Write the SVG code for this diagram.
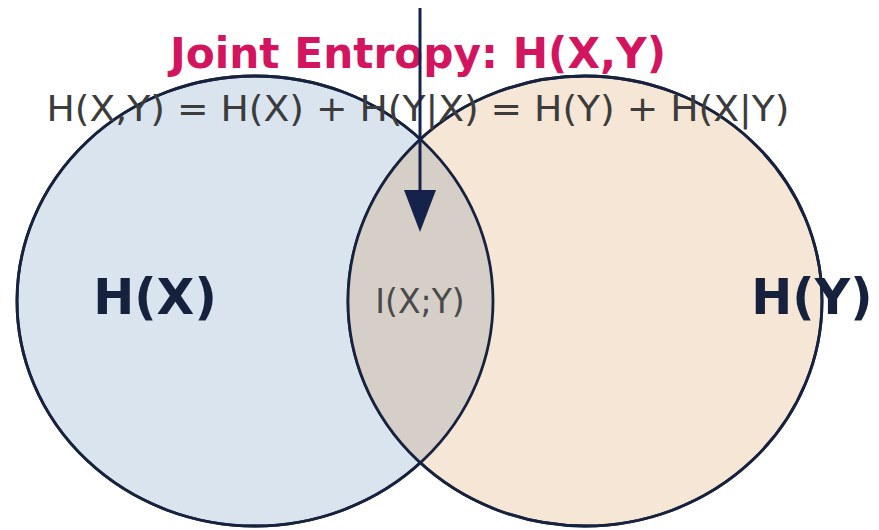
<svg xmlns="http://www.w3.org/2000/svg" width="879" height="530" viewBox="0 0 879 530">
<style>
.ring{stroke:#17223f;stroke-width:2.8}
.big{font-family:"DejaVu Sans",sans-serif;font-weight:bold;font-size:49px;fill:#16213d;text-anchor:middle}
.reg{font-family:"DejaVu Sans",sans-serif;text-anchor:middle}
</style>
<defs>
<clipPath id="clipL"><ellipse cx="255" cy="301" rx="238" ry="225"/></clipPath>
</defs>
<rect width="879" height="530" fill="#ffffff"/>
<g id="node-hx">
<ellipse class="ring" cx="255" cy="301" rx="238" ry="225" fill="#d9e4ef"/>
</g>
<g id="node-hy">
<ellipse class="ring" cx="585" cy="301" rx="237" ry="225" fill="#f5e6d5"/>
</g>
<g id="node-ixy">
<ellipse cx="585" cy="301" rx="237" ry="225" fill="#d5cfc7" clip-path="url(#clipL)"/>
<ellipse cx="255" cy="301" rx="238" ry="225" fill="none" class="ring"/>
<ellipse cx="585" cy="301" rx="237" ry="225" fill="none" class="ring"/>
<text class="reg" x="420" y="313" font-size="33" fill="#4a4a4a">I(X;Y)</text>
</g>
<g id="label-hx"><text class="big" x="155" y="314">H(X)</text></g>
<g id="label-hy"><text class="big" x="812" y="314">H(Y)</text></g>
<g id="title"><text class="reg" x="418" y="68" font-size="42" font-weight="bold" fill="#d3145f" textLength="496" lengthAdjust="spacingAndGlyphs">Joint Entropy: H(X,Y)</text></g>
<g id="formula"><text class="reg" x="418" y="121" font-size="35" fill="#3c3c3c" textLength="743" lengthAdjust="spacingAndGlyphs">H(X,Y) = H(X) + H(Y|X) = H(Y) + H(X|Y)</text></g>
<g id="connectors">
<line x1="420" y1="8" x2="420" y2="192" stroke="#15234a" stroke-width="3"/>
<polygon points="404,190 436,190 420,232" fill="#15234a"/>
</g>
</svg>
